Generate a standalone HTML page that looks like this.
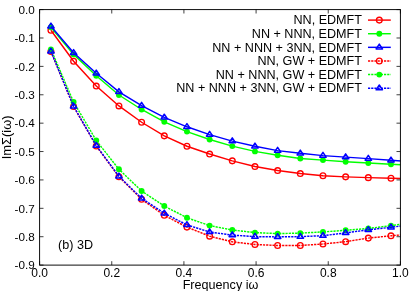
<!DOCTYPE html>
<html><head><meta charset="utf-8"><style>
html,body{margin:0;padding:0;background:#fff;}
body{width:415px;height:291px;overflow:hidden;}
svg{display:block;}
text{font-family:"Liberation Sans",sans-serif;font-size:12.6px;fill:#000;}
.tk{font-size:11.7px;}
.tx{font-size:12px;}
svg{will-change:transform;}
</style></head><body>
<svg width="415" height="291" viewBox="0 0 415 291">
<rect width="415" height="291" fill="#fff"/>
<defs><clipPath id="cp"><rect x="39.6" y="9.6" width="360.79999999999995" height="255.50000000000003"/></clipPath></defs>
<polyline clip-path="url(#cp)" points="50.93,30.25 73.60,61.25 96.27,86.05 118.94,105.95 141.61,122.25 164.28,135.85 186.95,146.25 209.62,154.05 232.29,160.85 254.96,166.55 277.63,170.55 300.30,173.55 322.97,175.75 345.64,176.85 368.31,177.65 390.98,178.25 413.65,178.75" fill="none" stroke="#ff0000" stroke-width="1.45"/>
<circle cx="50.93" cy="30.25" r="2.85" fill="none" stroke="#ff0000" stroke-width="1.35"/>
<circle cx="73.60" cy="61.25" r="2.85" fill="none" stroke="#ff0000" stroke-width="1.35"/>
<circle cx="96.27" cy="86.05" r="2.85" fill="none" stroke="#ff0000" stroke-width="1.35"/>
<circle cx="118.94" cy="105.95" r="2.85" fill="none" stroke="#ff0000" stroke-width="1.35"/>
<circle cx="141.61" cy="122.25" r="2.85" fill="none" stroke="#ff0000" stroke-width="1.35"/>
<circle cx="164.28" cy="135.85" r="2.85" fill="none" stroke="#ff0000" stroke-width="1.35"/>
<circle cx="186.95" cy="146.25" r="2.85" fill="none" stroke="#ff0000" stroke-width="1.35"/>
<circle cx="209.62" cy="154.05" r="2.85" fill="none" stroke="#ff0000" stroke-width="1.35"/>
<circle cx="232.29" cy="160.85" r="2.85" fill="none" stroke="#ff0000" stroke-width="1.35"/>
<circle cx="254.96" cy="166.55" r="2.85" fill="none" stroke="#ff0000" stroke-width="1.35"/>
<circle cx="277.63" cy="170.55" r="2.85" fill="none" stroke="#ff0000" stroke-width="1.35"/>
<circle cx="300.30" cy="173.55" r="2.85" fill="none" stroke="#ff0000" stroke-width="1.35"/>
<circle cx="322.97" cy="175.75" r="2.85" fill="none" stroke="#ff0000" stroke-width="1.35"/>
<circle cx="345.64" cy="176.85" r="2.85" fill="none" stroke="#ff0000" stroke-width="1.35"/>
<circle cx="368.31" cy="177.65" r="2.85" fill="none" stroke="#ff0000" stroke-width="1.35"/>
<circle cx="390.98" cy="178.25" r="2.85" fill="none" stroke="#ff0000" stroke-width="1.35"/>
<polyline clip-path="url(#cp)" points="50.93,27.20 73.60,54.40 96.27,75.80 118.94,95.00 141.61,109.50 164.28,121.80 186.95,131.60 209.62,139.50 232.29,146.10 254.96,151.40 277.63,155.30 300.30,158.50 322.97,160.10 345.64,161.70 368.31,163.00 390.98,164.20 413.65,165.40" fill="none" stroke="#00ff00" stroke-width="1.45"/>
<circle cx="50.93" cy="27.20" r="2.95" fill="#00ff00"/>
<circle cx="73.60" cy="54.40" r="2.95" fill="#00ff00"/>
<circle cx="96.27" cy="75.80" r="2.95" fill="#00ff00"/>
<circle cx="118.94" cy="95.00" r="2.95" fill="#00ff00"/>
<circle cx="141.61" cy="109.50" r="2.95" fill="#00ff00"/>
<circle cx="164.28" cy="121.80" r="2.95" fill="#00ff00"/>
<circle cx="186.95" cy="131.60" r="2.95" fill="#00ff00"/>
<circle cx="209.62" cy="139.50" r="2.95" fill="#00ff00"/>
<circle cx="232.29" cy="146.10" r="2.95" fill="#00ff00"/>
<circle cx="254.96" cy="151.40" r="2.95" fill="#00ff00"/>
<circle cx="277.63" cy="155.30" r="2.95" fill="#00ff00"/>
<circle cx="300.30" cy="158.50" r="2.95" fill="#00ff00"/>
<circle cx="322.97" cy="160.10" r="2.95" fill="#00ff00"/>
<circle cx="345.64" cy="161.70" r="2.95" fill="#00ff00"/>
<circle cx="368.31" cy="163.00" r="2.95" fill="#00ff00"/>
<circle cx="390.98" cy="164.20" r="2.95" fill="#00ff00"/>
<polyline clip-path="url(#cp)" points="50.93,26.30 73.60,52.80 96.27,73.30 118.94,91.80 141.61,105.60 164.28,117.40 186.95,126.80 209.62,134.60 232.29,141.10 254.96,146.30 277.63,150.60 300.30,153.30 322.97,155.60 345.64,157.10 368.31,158.60 390.98,160.30 413.65,161.80" fill="none" stroke="#0000ff" stroke-width="1.45"/>
<path d="M50.93 23.10 L47.73 27.90 L54.13 27.90 Z" fill="none" stroke="#0000ff" stroke-width="1.5" stroke-linejoin="round"/>
<path d="M73.60 49.60 L70.40 54.40 L76.80 54.40 Z" fill="none" stroke="#0000ff" stroke-width="1.5" stroke-linejoin="round"/>
<path d="M96.27 70.10 L93.07 74.90 L99.47 74.90 Z" fill="none" stroke="#0000ff" stroke-width="1.5" stroke-linejoin="round"/>
<path d="M118.94 88.60 L115.74 93.40 L122.14 93.40 Z" fill="none" stroke="#0000ff" stroke-width="1.5" stroke-linejoin="round"/>
<path d="M141.61 102.40 L138.41 107.20 L144.81 107.20 Z" fill="none" stroke="#0000ff" stroke-width="1.5" stroke-linejoin="round"/>
<path d="M164.28 114.20 L161.08 119.00 L167.48 119.00 Z" fill="none" stroke="#0000ff" stroke-width="1.5" stroke-linejoin="round"/>
<path d="M186.95 123.60 L183.75 128.40 L190.15 128.40 Z" fill="none" stroke="#0000ff" stroke-width="1.5" stroke-linejoin="round"/>
<path d="M209.62 131.40 L206.42 136.20 L212.82 136.20 Z" fill="none" stroke="#0000ff" stroke-width="1.5" stroke-linejoin="round"/>
<path d="M232.29 137.90 L229.09 142.70 L235.49 142.70 Z" fill="none" stroke="#0000ff" stroke-width="1.5" stroke-linejoin="round"/>
<path d="M254.96 143.10 L251.76 147.90 L258.16 147.90 Z" fill="none" stroke="#0000ff" stroke-width="1.5" stroke-linejoin="round"/>
<path d="M277.63 147.40 L274.43 152.20 L280.83 152.20 Z" fill="none" stroke="#0000ff" stroke-width="1.5" stroke-linejoin="round"/>
<path d="M300.30 150.10 L297.10 154.90 L303.50 154.90 Z" fill="none" stroke="#0000ff" stroke-width="1.5" stroke-linejoin="round"/>
<path d="M322.97 152.40 L319.77 157.20 L326.17 157.20 Z" fill="none" stroke="#0000ff" stroke-width="1.5" stroke-linejoin="round"/>
<path d="M345.64 153.90 L342.44 158.70 L348.84 158.70 Z" fill="none" stroke="#0000ff" stroke-width="1.5" stroke-linejoin="round"/>
<path d="M368.31 155.40 L365.11 160.20 L371.51 160.20 Z" fill="none" stroke="#0000ff" stroke-width="1.5" stroke-linejoin="round"/>
<path d="M390.98 157.10 L387.78 161.90 L394.18 161.90 Z" fill="none" stroke="#0000ff" stroke-width="1.5" stroke-linejoin="round"/>
<polyline clip-path="url(#cp)" points="50.93,51.40 73.60,106.50 96.27,146.00 118.94,176.80 141.61,199.30 164.28,215.30 186.95,227.10 209.62,236.20 232.29,241.80 254.96,244.50 277.63,245.50 300.30,245.50 322.97,244.00 345.64,241.70 368.31,238.10 390.98,235.80 413.65,233.80" fill="none" stroke="#ff0000" stroke-width="1.45" stroke-dasharray="2.2 1.0"/>
<circle cx="50.93" cy="51.40" r="2.85" fill="none" stroke="#ff0000" stroke-width="1.35"/>
<circle cx="73.60" cy="106.50" r="2.85" fill="none" stroke="#ff0000" stroke-width="1.35"/>
<circle cx="96.27" cy="146.00" r="2.85" fill="none" stroke="#ff0000" stroke-width="1.35"/>
<circle cx="118.94" cy="176.80" r="2.85" fill="none" stroke="#ff0000" stroke-width="1.35"/>
<circle cx="141.61" cy="199.30" r="2.85" fill="none" stroke="#ff0000" stroke-width="1.35"/>
<circle cx="164.28" cy="215.30" r="2.85" fill="none" stroke="#ff0000" stroke-width="1.35"/>
<circle cx="186.95" cy="227.10" r="2.85" fill="none" stroke="#ff0000" stroke-width="1.35"/>
<circle cx="209.62" cy="236.20" r="2.85" fill="none" stroke="#ff0000" stroke-width="1.35"/>
<circle cx="232.29" cy="241.80" r="2.85" fill="none" stroke="#ff0000" stroke-width="1.35"/>
<circle cx="254.96" cy="244.50" r="2.85" fill="none" stroke="#ff0000" stroke-width="1.35"/>
<circle cx="277.63" cy="245.50" r="2.85" fill="none" stroke="#ff0000" stroke-width="1.35"/>
<circle cx="300.30" cy="245.50" r="2.85" fill="none" stroke="#ff0000" stroke-width="1.35"/>
<circle cx="322.97" cy="244.00" r="2.85" fill="none" stroke="#ff0000" stroke-width="1.35"/>
<circle cx="345.64" cy="241.70" r="2.85" fill="none" stroke="#ff0000" stroke-width="1.35"/>
<circle cx="368.31" cy="238.10" r="2.85" fill="none" stroke="#ff0000" stroke-width="1.35"/>
<circle cx="390.98" cy="235.80" r="2.85" fill="none" stroke="#ff0000" stroke-width="1.35"/>
<polyline clip-path="url(#cp)" points="50.93,49.40 73.60,102.00 96.27,140.50 118.94,169.30 141.61,191.00 164.28,206.00 186.95,217.80 209.62,225.60 232.29,230.00 254.96,232.60 277.63,233.60 300.30,233.10 322.97,231.90 345.64,230.30 368.31,228.50 390.98,225.60 413.65,222.40" fill="none" stroke="#00ff00" stroke-width="1.45" stroke-dasharray="2.2 1.0"/>
<circle cx="50.93" cy="49.40" r="2.95" fill="#00ff00"/>
<circle cx="73.60" cy="102.00" r="2.95" fill="#00ff00"/>
<circle cx="96.27" cy="140.50" r="2.95" fill="#00ff00"/>
<circle cx="118.94" cy="169.30" r="2.95" fill="#00ff00"/>
<circle cx="141.61" cy="191.00" r="2.95" fill="#00ff00"/>
<circle cx="164.28" cy="206.00" r="2.95" fill="#00ff00"/>
<circle cx="186.95" cy="217.80" r="2.95" fill="#00ff00"/>
<circle cx="209.62" cy="225.60" r="2.95" fill="#00ff00"/>
<circle cx="232.29" cy="230.00" r="2.95" fill="#00ff00"/>
<circle cx="254.96" cy="232.60" r="2.95" fill="#00ff00"/>
<circle cx="277.63" cy="233.60" r="2.95" fill="#00ff00"/>
<circle cx="300.30" cy="233.10" r="2.95" fill="#00ff00"/>
<circle cx="322.97" cy="231.90" r="2.95" fill="#00ff00"/>
<circle cx="345.64" cy="230.30" r="2.95" fill="#00ff00"/>
<circle cx="368.31" cy="228.50" r="2.95" fill="#00ff00"/>
<circle cx="390.98" cy="225.60" r="2.95" fill="#00ff00"/>
<polyline clip-path="url(#cp)" points="50.93,51.40 73.60,106.30 96.27,145.60 118.94,176.30 141.61,198.30 164.28,213.30 186.95,224.90 209.62,232.00 232.29,235.10 254.96,236.60 277.63,236.90 300.30,236.60 322.97,235.70 345.64,232.90 368.31,229.80 390.98,227.30 413.65,224.50" fill="none" stroke="#0000ff" stroke-width="1.45" stroke-dasharray="2.2 1.0"/>
<path d="M50.93 48.20 L47.73 53.00 L54.13 53.00 Z" fill="none" stroke="#0000ff" stroke-width="1.5" stroke-linejoin="round"/>
<path d="M73.60 103.10 L70.40 107.90 L76.80 107.90 Z" fill="none" stroke="#0000ff" stroke-width="1.5" stroke-linejoin="round"/>
<path d="M96.27 142.40 L93.07 147.20 L99.47 147.20 Z" fill="none" stroke="#0000ff" stroke-width="1.5" stroke-linejoin="round"/>
<path d="M118.94 173.10 L115.74 177.90 L122.14 177.90 Z" fill="none" stroke="#0000ff" stroke-width="1.5" stroke-linejoin="round"/>
<path d="M141.61 195.10 L138.41 199.90 L144.81 199.90 Z" fill="none" stroke="#0000ff" stroke-width="1.5" stroke-linejoin="round"/>
<path d="M164.28 210.10 L161.08 214.90 L167.48 214.90 Z" fill="none" stroke="#0000ff" stroke-width="1.5" stroke-linejoin="round"/>
<path d="M186.95 221.70 L183.75 226.50 L190.15 226.50 Z" fill="none" stroke="#0000ff" stroke-width="1.5" stroke-linejoin="round"/>
<path d="M209.62 228.80 L206.42 233.60 L212.82 233.60 Z" fill="none" stroke="#0000ff" stroke-width="1.5" stroke-linejoin="round"/>
<path d="M232.29 231.90 L229.09 236.70 L235.49 236.70 Z" fill="none" stroke="#0000ff" stroke-width="1.5" stroke-linejoin="round"/>
<path d="M254.96 233.40 L251.76 238.20 L258.16 238.20 Z" fill="none" stroke="#0000ff" stroke-width="1.5" stroke-linejoin="round"/>
<path d="M277.63 233.70 L274.43 238.50 L280.83 238.50 Z" fill="none" stroke="#0000ff" stroke-width="1.5" stroke-linejoin="round"/>
<path d="M300.30 233.40 L297.10 238.20 L303.50 238.20 Z" fill="none" stroke="#0000ff" stroke-width="1.5" stroke-linejoin="round"/>
<path d="M322.97 232.50 L319.77 237.30 L326.17 237.30 Z" fill="none" stroke="#0000ff" stroke-width="1.5" stroke-linejoin="round"/>
<path d="M345.64 229.70 L342.44 234.50 L348.84 234.50 Z" fill="none" stroke="#0000ff" stroke-width="1.5" stroke-linejoin="round"/>
<path d="M368.31 226.60 L365.11 231.40 L371.51 231.40 Z" fill="none" stroke="#0000ff" stroke-width="1.5" stroke-linejoin="round"/>
<path d="M390.98 224.10 L387.78 228.90 L394.18 228.90 Z" fill="none" stroke="#0000ff" stroke-width="1.5" stroke-linejoin="round"/>
<rect x="39.6" y="9.6" width="360.79999999999995" height="255.50000000000003" fill="none" stroke="#000" stroke-width="0.95"/>
<line x1="39.6" y1="9.60" x2="43.5" y2="9.60" stroke="#000" stroke-width="0.75"/>
<line x1="400.4" y1="9.60" x2="396.5" y2="9.60" stroke="#000" stroke-width="0.75"/>
<text class="tk" x="34.7" y="13.90" text-anchor="end">0.0</text>
<line x1="39.6" y1="37.99" x2="43.5" y2="37.99" stroke="#000" stroke-width="0.75"/>
<line x1="400.4" y1="37.99" x2="396.5" y2="37.99" stroke="#000" stroke-width="0.75"/>
<text class="tk" x="34.7" y="42.29" text-anchor="end">-0.1</text>
<line x1="39.6" y1="66.38" x2="43.5" y2="66.38" stroke="#000" stroke-width="0.75"/>
<line x1="400.4" y1="66.38" x2="396.5" y2="66.38" stroke="#000" stroke-width="0.75"/>
<text class="tk" x="34.7" y="70.68" text-anchor="end">-0.2</text>
<line x1="39.6" y1="94.77" x2="43.5" y2="94.77" stroke="#000" stroke-width="0.75"/>
<line x1="400.4" y1="94.77" x2="396.5" y2="94.77" stroke="#000" stroke-width="0.75"/>
<text class="tk" x="34.7" y="99.07" text-anchor="end">-0.3</text>
<line x1="39.6" y1="123.16" x2="43.5" y2="123.16" stroke="#000" stroke-width="0.75"/>
<line x1="400.4" y1="123.16" x2="396.5" y2="123.16" stroke="#000" stroke-width="0.75"/>
<text class="tk" x="34.7" y="127.46" text-anchor="end">-0.4</text>
<line x1="39.6" y1="151.54" x2="43.5" y2="151.54" stroke="#000" stroke-width="0.75"/>
<line x1="400.4" y1="151.54" x2="396.5" y2="151.54" stroke="#000" stroke-width="0.75"/>
<text class="tk" x="34.7" y="155.84" text-anchor="end">-0.5</text>
<line x1="39.6" y1="179.93" x2="43.5" y2="179.93" stroke="#000" stroke-width="0.75"/>
<line x1="400.4" y1="179.93" x2="396.5" y2="179.93" stroke="#000" stroke-width="0.75"/>
<text class="tk" x="34.7" y="184.23" text-anchor="end">-0.6</text>
<line x1="39.6" y1="208.32" x2="43.5" y2="208.32" stroke="#000" stroke-width="0.75"/>
<line x1="400.4" y1="208.32" x2="396.5" y2="208.32" stroke="#000" stroke-width="0.75"/>
<text class="tk" x="34.7" y="212.62" text-anchor="end">-0.7</text>
<line x1="39.6" y1="236.71" x2="43.5" y2="236.71" stroke="#000" stroke-width="0.75"/>
<line x1="400.4" y1="236.71" x2="396.5" y2="236.71" stroke="#000" stroke-width="0.75"/>
<text class="tk" x="34.7" y="241.01" text-anchor="end">-0.8</text>
<line x1="39.6" y1="265.10" x2="43.5" y2="265.10" stroke="#000" stroke-width="0.75"/>
<line x1="400.4" y1="265.10" x2="396.5" y2="265.10" stroke="#000" stroke-width="0.75"/>
<text class="tk" x="34.7" y="269.40" text-anchor="end">-0.9</text>
<line x1="39.60" y1="265.1" x2="39.60" y2="261.20000000000005" stroke="#000" stroke-width="0.75"/>
<line x1="39.60" y1="9.6" x2="39.60" y2="13.5" stroke="#000" stroke-width="0.75"/>
<text class="tx" x="39.60" y="276.5" text-anchor="middle">0.0</text>
<line x1="111.76" y1="265.1" x2="111.76" y2="261.20000000000005" stroke="#000" stroke-width="0.75"/>
<line x1="111.76" y1="9.6" x2="111.76" y2="13.5" stroke="#000" stroke-width="0.75"/>
<text class="tx" x="111.76" y="276.5" text-anchor="middle">0.2</text>
<line x1="183.92" y1="265.1" x2="183.92" y2="261.20000000000005" stroke="#000" stroke-width="0.75"/>
<line x1="183.92" y1="9.6" x2="183.92" y2="13.5" stroke="#000" stroke-width="0.75"/>
<text class="tx" x="183.92" y="276.5" text-anchor="middle">0.4</text>
<line x1="256.08" y1="265.1" x2="256.08" y2="261.20000000000005" stroke="#000" stroke-width="0.75"/>
<line x1="256.08" y1="9.6" x2="256.08" y2="13.5" stroke="#000" stroke-width="0.75"/>
<text class="tx" x="256.08" y="276.5" text-anchor="middle">0.6</text>
<line x1="328.24" y1="265.1" x2="328.24" y2="261.20000000000005" stroke="#000" stroke-width="0.75"/>
<line x1="328.24" y1="9.6" x2="328.24" y2="13.5" stroke="#000" stroke-width="0.75"/>
<text class="tx" x="328.24" y="276.5" text-anchor="middle">0.8</text>
<line x1="400.40" y1="265.1" x2="400.40" y2="261.20000000000005" stroke="#000" stroke-width="0.75"/>
<line x1="400.40" y1="9.6" x2="400.40" y2="13.5" stroke="#000" stroke-width="0.75"/>
<text class="tx" x="400.40" y="276.5" text-anchor="middle">1.0</text>
<text x="362" y="24.30" text-anchor="end">NN, EDMFT</text>
<line x1="368" y1="20.10" x2="390.8" y2="20.10" stroke="#ff0000" stroke-width="1.45"/>
<circle cx="379.30" cy="20.10" r="2.85" fill="none" stroke="#ff0000" stroke-width="1.35"/>
<text x="362" y="37.92" text-anchor="end">NN + NNN, EDMFT</text>
<line x1="368" y1="33.72" x2="390.8" y2="33.72" stroke="#00ff00" stroke-width="1.45"/>
<circle cx="379.30" cy="33.72" r="2.95" fill="#00ff00"/>
<text x="362" y="51.54" text-anchor="end">NN + NNN + 3NN, EDMFT</text>
<line x1="368" y1="47.34" x2="390.8" y2="47.34" stroke="#0000ff" stroke-width="1.45"/>
<path d="M379.30 44.14 L376.10 48.94 L382.50 48.94 Z" fill="none" stroke="#0000ff" stroke-width="1.5" stroke-linejoin="round"/>
<text x="362" y="65.16" text-anchor="end">NN, GW + EDMFT</text>
<line x1="368" y1="60.96" x2="390.8" y2="60.96" stroke="#ff0000" stroke-width="1.45" stroke-dasharray="2.2 1.0"/>
<circle cx="379.30" cy="60.96" r="2.85" fill="none" stroke="#ff0000" stroke-width="1.35"/>
<text x="362" y="78.78" text-anchor="end">NN + NNN, GW + EDMFT</text>
<line x1="368" y1="74.58" x2="390.8" y2="74.58" stroke="#00ff00" stroke-width="1.45" stroke-dasharray="2.2 1.0"/>
<circle cx="379.30" cy="74.58" r="2.95" fill="#00ff00"/>
<text x="362" y="92.40" text-anchor="end">NN + NNN + 3NN, GW + EDMFT</text>
<line x1="368" y1="88.20" x2="390.8" y2="88.20" stroke="#0000ff" stroke-width="1.45" stroke-dasharray="2.2 1.0"/>
<path d="M379.30 85.00 L376.10 89.80 L382.50 89.80 Z" fill="none" stroke="#0000ff" stroke-width="1.5" stroke-linejoin="round"/>
<text x="58" y="248.5">(b) 3D</text>
<text x="220.5" y="289.2" text-anchor="middle" >Frequency iω</text>
<text transform="translate(10.8,137.4) rotate(-90)" text-anchor="middle" style="font-size:12.9px">ImΣ(iω)</text>
</svg>
</body></html>
